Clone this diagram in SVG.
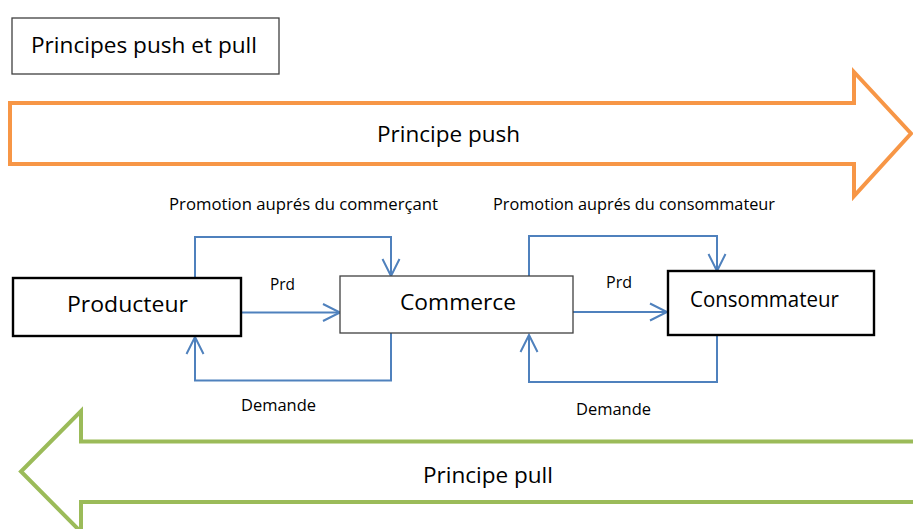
<svg xmlns="http://www.w3.org/2000/svg" width="913" height="529" viewBox="0 0 913 529">
  <style>
    text { font-family: "Open Sans", "Liberation Sans", sans-serif; fill: #000; }
    .big { font-size: 22px; }
    .small { font-size: 16px; }
    .box { fill: #fff; stroke: #000; stroke-width: 2.4; }
    .thin { fill: #fff; stroke: #404040; stroke-width: 1.3; }
    .conn { fill: none; stroke: #4F81BD; stroke-width: 2; marker-end: url(#open); }
  </style>
  <defs>
    <marker id="open" markerUnits="userSpaceOnUse" markerWidth="22" markerHeight="22" viewBox="-2 -2 22 22" refX="17" refY="8.5" orient="auto">
      <path d="M0,0 L17,8.5 L0,17" fill="none" stroke="#4F81BD" stroke-width="2"/>
    </marker>
  </defs>

  <rect width="913" height="529" fill="#fff"/>

  <!-- title -->
  <g id="title">
    <rect class="thin" x="12" y="18" width="267" height="56"/>
    <text class="big" x="31" y="53" textLength="226" lengthAdjust="spacingAndGlyphs">Principes push et pull</text>
  </g>

  <!-- push band -->
  <g id="push">
    <path d="M10,103 H854 V72 L911,133.5 L854,196 V164 H10 Z" fill="#fff" stroke="#F79646" stroke-width="4" stroke-linejoin="miter"/>
    <text class="big" x="377" y="141.5" textLength="143" lengthAdjust="spacingAndGlyphs">Principe push</text>
  </g>

  <!-- pull band -->
  <g id="pull">
    <path d="M920,441.5 H81 V411 L21,471.5 L81,532 V502 H920" fill="#fff" stroke="#9BBB59" stroke-width="4" stroke-linejoin="miter"/>
    <text class="big" x="423" y="483" textLength="130" lengthAdjust="spacingAndGlyphs">Principe pull</text>
  </g>

  <!-- connectors -->
  <g id="connectors">
    <path class="conn" d="M195,278 V237 H391 V276"/>
    <path class="conn" d="M529,276 V236 H717 V271"/>
    <path class="conn" d="M241,312.5 H340"/>
    <path class="conn" d="M573,312 H667"/>
    <path class="conn" d="M391,333 V380.5 H195 V337"/>
    <path class="conn" d="M717,335 V382 H529 V335"/>
  </g>

  <!-- connector labels -->
  <g id="labels">
    <text class="small" x="169" y="210" textLength="269" lengthAdjust="spacingAndGlyphs">Promotion auprés du commerçant</text>
    <text class="small" x="493" y="210" textLength="282" lengthAdjust="spacingAndGlyphs">Promotion auprés du consommateur</text>
    <text class="small" x="270" y="290" textLength="25" lengthAdjust="spacingAndGlyphs">Prd</text>
    <text class="small" x="606" y="288" textLength="26" lengthAdjust="spacingAndGlyphs">Prd</text>
    <text class="small" x="241" y="411" textLength="75" lengthAdjust="spacingAndGlyphs">Demande</text>
    <text class="small" x="576" y="415" textLength="75" lengthAdjust="spacingAndGlyphs">Demande</text>
  </g>

  <!-- nodes -->
  <g id="producteur">
    <rect class="box" x="13" y="278" width="228" height="58"/>
    <text class="big" x="67" y="312" textLength="121" lengthAdjust="spacingAndGlyphs">Producteur</text>
  </g>
  <g id="commerce">
    <rect class="thin" x="340" y="276" width="233" height="57"/>
    <text class="big" x="400" y="310" textLength="116" lengthAdjust="spacingAndGlyphs">Commerce</text>
  </g>
  <g id="consommateur">
    <rect class="box" x="668" y="271" width="206" height="64"/>
    <text class="big" x="690" y="307" textLength="149" lengthAdjust="spacingAndGlyphs">Consommateur</text>
  </g>
</svg>
